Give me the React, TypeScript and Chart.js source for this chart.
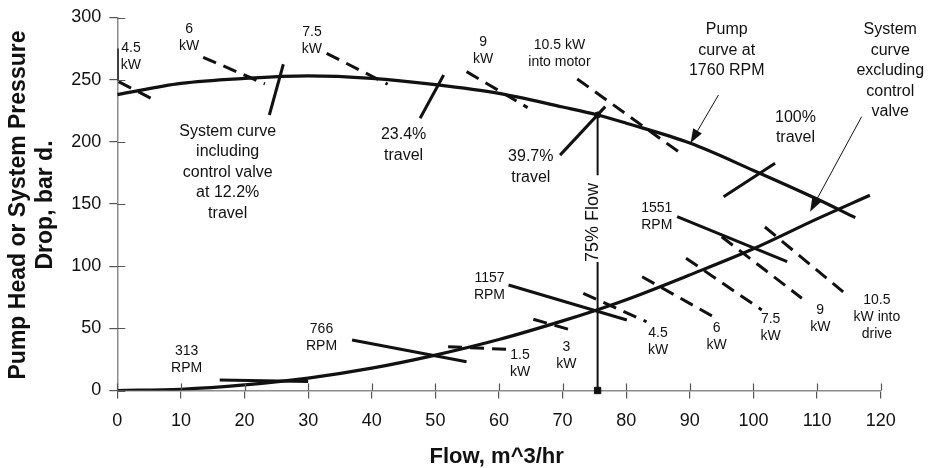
import React, { useEffect, useRef } from "react";
import { Chart, registerables } from "chart.js";

Chart.register(...registerables);

const FONT = '"Liberation Sans", Arial, Helvetica, sans-serif';

// Axis ticks
const xTicks = [0, 10, 20, 30, 40, 50, 60, 70, 80, 90, 100, 110, 120];
const yTicks = [0, 50, 100, 150, 200, 250, 300];

// Pump curve at 1760 RPM
const pumpFlow = [0, 10, 20, 30, 40, 50, 60, 70, 75.5, 80, 90, 100, 110, 116];
const pumpHead = [238, 247, 251, 253, 251, 246, 239, 228, 221.6, 215, 199, 177, 154, 139];

// System curve excluding control valve
const sysFlow = [0, 10, 20, 30, 40, 50, 60, 70, 75.5, 80, 90, 100, 110, 118.3];
const sysDrop = [0, 1, 4.5, 10, 18, 28.5, 41, 56, 65, 73, 93, 114, 138, 157];

// Reduced-speed pump curve pieces [x1, y1, x2, y2]: 313, 766, 1157, 1551 RPM
const speedLines = [
  [16.1, 8.4, 30, 7.2],
  [36.9, 40.6, 54.9, 23.2],
  [61.5, 84.9, 80.1, 56.7],
  [88.0, 139.8, 105.3, 103.6],
];

// System curves incl. control valve: 12.2%, 23.4%, 39.7%, 100% travel
const travelLines = [
  [26.1, 262.4, 23.9, 221.6],
  [51.3, 253.8, 47.6, 219.0],
  [76.7, 228.3, 69.6, 189.3],
  [103.4, 182.8, 95.3, 155.9],
];

// Constant power into motor (full speed): 4.5, 6, 7.5, 9, 10.5 kW
const kwMotorLines = [
  [0.2, 248.4, 5.8, 233.7],
  [13.5, 268.0, 23.2, 246.6],
  [32.9, 271.2, 42.5, 246.3],
  [54.9, 256.5, 64.5, 227.5],
  [72.3, 250.6, 88.2, 192.1],
];

// Constant power into drive (variable speed): 1.5, 3, 4.5, 6, 7.5, 9, 10.5 kW
const kwDriveLines = [
  [52.0, 35.2, 61.2, 33.1],
  [65.4, 57.3, 71.7, 48.1],
  [73.25, 78.2, 83.2, 55.3],
  [82.5, 91.5, 93.7, 59.3],
  [89.4, 106.4, 101.3, 64.8],
  [95.0, 123.7, 107.6, 74.2],
  [101.8, 131.5, 114.1, 79.3],
];

// 75% flow marker
const flow75 = 75.5;
const flow75Pieces = [
  [0, 103.4],
  [173.1, 221.6],
];
const axisMark = [0.1, 249, 0.1, 275];

// Annotation texts: [x, y, lines, size]
const notes: [number, number, string[], number][] = [
  [2.15, 275.7, ["4.5", "kW"], 14],
  [11.3, 290.5, ["6", "kW"], 14],
  [30.6, 288.1, ["7.5", "kW"], 14],
  [57.5, 280.1, ["9", "kW"], 14],
  [69.5, 277.9, ["10.5 kW", "into motor"], 14],
  [17.35, 208.2, ["System curve", "including", "control valve", "at 12.2%", "travel"], 16],
  [45.0, 205.5, ["23.4%", "travel"], 16],
  [65.0, 188.0, ["39.7%", "travel"], 16],
  [95.8, 290.0, ["Pump", "curve at", "1760 RPM"], 16],
  [121.5, 290.0, ["System", "curve", "excluding", "control", "valve"], 16],
  [106.6, 219.7, ["100%", "travel"], 16],
  [84.8, 146.5, ["1551", "RPM"], 14],
  [58.5, 90.7, ["1157", "RPM"], 14],
  [32.1, 49.2, ["766", "RPM"], 14],
  [10.9, 32.0, ["313", "RPM"], 14],
  [63.3, 28.6, ["1.5", "kW"], 14],
  [70.6, 35.2, ["3", "kW"], 14],
  [85.0, 46.5, ["4.5", "kW"], 14],
  [94.2, 50.5, ["6", "kW"], 14],
  [102.7, 57.3, ["7.5", "kW"], 14],
  [110.5, 64.7, ["9", "kW"], 14],
  [119.4, 72.8, ["10.5", "kW into", "drive"], 14],
];

// Pointer arrows [fromX, fromY, toX, toY]
const arrows = [
  [94.5, 237.7, 90.1, 199.1],
  [117.0, 220.2, 108.9, 143.8],
];

const INK = "#111";

function seg(s: number[], dashed: boolean, width = 3) {
  return {
    data: [
      { x: s[0], y: s[1] },
      { x: s[2], y: s[3] },
    ],
    showLine: true,
    borderColor: INK,
    borderWidth: width,
    borderDash: dashed ? [14, 8] : [],
    pointRadius: 0,
    fill: false,
  };
}

const overlay = {
  id: "overlay",
  afterDraw(chart: any) {
    const { ctx, scales } = chart;
    const xs = scales.x;
    const ys = scales.y;
    const ca = chart.chartArea;
    ctx.save();
    // inner halves of tick marks
    ctx.strokeStyle = "#555";
    ctx.lineWidth = 1.2;
    ctx.beginPath();
    xTicks.forEach((v) => {
      const px = Math.round(xs.getPixelForValue(v)) + 0.5;
      ctx.moveTo(px, ca.bottom);
      ctx.lineTo(px, ca.bottom - 7);
    });
    yTicks.forEach((v) => {
      const py = Math.round(ys.getPixelForValue(v)) + 0.5;
      ctx.moveTo(ca.left, py);
      ctx.lineTo(ca.left + 8, py);
    });
    ctx.stroke();

    // arrows
    ctx.strokeStyle = INK;
    ctx.fillStyle = INK;
    ctx.lineWidth = 1;
    arrows.forEach((a) => {
      const x1 = xs.getPixelForValue(a[0]);
      const y1 = ys.getPixelForValue(a[1]);
      const x2 = xs.getPixelForValue(a[2]);
      const y2 = ys.getPixelForValue(a[3]);
      const ang = Math.atan2(y2 - y1, x2 - x1);
      const L = 14;
      const W = 5;
      const bx = x2 - L * Math.cos(ang);
      const by = y2 - L * Math.sin(ang);
      ctx.beginPath();
      ctx.moveTo(x1, y1);
      ctx.lineTo(bx, by);
      ctx.stroke();
      ctx.beginPath();
      ctx.moveTo(x2, y2);
      ctx.lineTo(bx + W * Math.sin(ang), by - W * Math.cos(ang));
      ctx.lineTo(bx - W * Math.sin(ang), by + W * Math.cos(ang));
      ctx.closePath();
      ctx.fill();
    });

    // annotation texts
    ctx.fillStyle = INK;
    ctx.textAlign = "center";
    ctx.textBaseline = "middle";
    notes.forEach(([x, y, lines, size]) => {
      const px = xs.getPixelForValue(x);
      const py = ys.getPixelForValue(y);
      const lh = size >= 16 ? 20.4 : 17.2;
      ctx.font = `${size}px ${FONT}`;
      lines.forEach((t, i) => ctx.fillText(t, px, py + i * lh));
    });

    // 75% Flow rotated text
    ctx.save();
    ctx.translate(xs.getPixelForValue(74.8), ys.getPixelForValue(135.1));
    ctx.rotate(-Math.PI / 2);
    ctx.font = `18px ${FONT}`;
    ctx.fillText("75% Flow", 0, 0);
    ctx.restore();

    // axis titles
    ctx.font = `bold 22px ${FONT}`;
    ctx.fillText("Flow, m^3/hr", 496.7, 456.7);
    ctx.save();
    ctx.translate(19, 205);
    ctx.rotate(-Math.PI / 2);
    ctx.font = `bold 23px ${FONT}`;
    ctx.fillText("Pump Head or System Pressure", 0, 0);
    ctx.fillText("Drop, bar d.", 0, 26.5);
    ctx.restore();

    ctx.restore();
  },
};

export default function App() {
  const ref = useRef<HTMLCanvasElement | null>(null);

  useEffect(() => {
    if (!ref.current) return;
    const datasets: any[] = [];
    datasets.push({
      data: pumpFlow.map((x, i) => ({ x, y: pumpHead[i] })),
      showLine: true,
      borderColor: INK,
      borderWidth: 3.2,
      pointRadius: 0,
      cubicInterpolationMode: "monotone",
    });
    datasets.push({
      data: sysFlow.map((x, i) => ({ x, y: sysDrop[i] })),
      showLine: true,
      borderColor: INK,
      borderWidth: 3.2,
      pointRadius: 0,
      cubicInterpolationMode: "monotone",
    });
    speedLines.forEach((s) => datasets.push(seg(s, false)));
    travelLines.forEach((s) => datasets.push(seg(s, false)));
    kwMotorLines.forEach((s) => datasets.push(seg(s, true)));
    kwDriveLines.forEach((s) => datasets.push(seg(s, true)));
    datasets.push(seg(axisMark, false, 1.6));
    flow75Pieces.forEach((p) => datasets.push(seg([flow75, p[0], flow75, p[1]], false, 2)));
    datasets.push({
      data: [{ x: flow75, y: 0 }],
      pointStyle: "rect",
      pointRadius: 4.5,
      backgroundColor: INK,
      borderColor: INK,
      showLine: false,
      clip: false,
    });
    datasets.push({
      data: [{ x: flow75, y: pumpHead[8] }],
      pointStyle: "circle",
      pointRadius: 3,
      backgroundColor: INK,
      borderColor: INK,
      showLine: false,
      clip: false,
    });

    const chart = new Chart(ref.current, {
      type: "scatter",
      data: { datasets },
      options: {
        animation: false,
        responsive: false,
        maintainAspectRatio: false,
        devicePixelRatio: 1,
        layout: { padding: { top: 17.5, right: 48.3, left: 0, bottom: 0 } },
        plugins: { legend: { display: false }, tooltip: { enabled: false } },
        scales: {
          x: {
            type: "linear",
            min: 0,
            max: 120,
            afterBuildTicks: (s: any) => {
              s.ticks = xTicks.map((v) => ({ value: v }));
            },
            afterFit: (s: any) => {
              s.height = 77.5;
              s.paddingLeft = 0;
              s.paddingRight = 0;
            },
            ticks: {
              autoSkip: false,
              maxRotation: 0,
              padding: 12,
              color: INK,
              font: { size: 18, family: FONT },
            },
            grid: { drawOnChartArea: false, drawTicks: true, tickLength: 8, color: "#555", lineWidth: 1.2 },
            border: { display: true, color: "#8c8c8c", width: 1.5 },
          },
          y: {
            type: "linear",
            min: 0,
            max: 300,
            afterBuildTicks: (s: any) => {
              s.ticks = yTicks.map((v) => ({ value: v }));
            },
            afterFit: (s: any) => {
              s.width = 117.3;
              s.paddingTop = 0;
              s.paddingBottom = 0;
            },
            ticks: {
              autoSkip: false,
              padding: 8,
              color: INK,
              font: { size: 18, family: FONT },
            },
            grid: { drawOnChartArea: false, drawTicks: true, tickLength: 8, color: "#555", lineWidth: 1.2 },
            border: { display: true, color: "#8c8c8c", width: 1.5 },
          },
        },
      },
      plugins: [overlay],
    } as any);
    return () => chart.destroy();
  }, []);

  return (
    <div style={{ position: "fixed", left: 0, top: 0, width: 929, height: 468, background: "#fff" }}>
      <canvas ref={ref} width={929} height={468} style={{ width: 929, height: 468, display: "block" }} />
    </div>
  );
}
